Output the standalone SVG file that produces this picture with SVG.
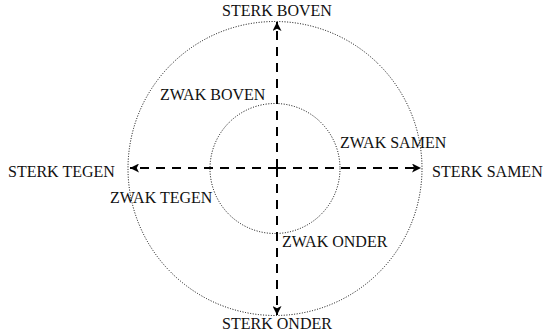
<svg xmlns="http://www.w3.org/2000/svg" width="545" height="332" viewBox="0 0 545 332">
<style>
text { font-family: "Liberation Serif", "Times New Roman", serif; font-size: 16px; fill: #111; }
.ring { fill: none; stroke: #000; stroke-width: 1; stroke-dasharray: 1 1.6; }
.axis { fill: none; stroke: #000; stroke-width: 2; stroke-dasharray: 9 7; }
</style>
<defs>
<marker id="ah" viewBox="0 0 10 10" refX="10" refY="5" markerWidth="10" markerHeight="9" markerUnits="userSpaceOnUse" orient="auto">
<path d="M0,0 L10,5 L0,10 L2.5,5 Z" fill="#000"/>
</marker>
</defs>
<g id="rings">
<circle id="outer" class="ring" cx="275" cy="168.5" r="147"/>
<circle id="inner" class="ring" cx="275" cy="168.5" r="65"/>
</g>
<g id="connectors">
<line class="axis" x1="277" y1="168" x2="277" y2="22" marker-end="url(#ah)"/>
<line class="axis" x1="277" y1="168" x2="277" y2="315" marker-end="url(#ah)"/>
<line class="axis" x1="277" y1="168" x2="130" y2="168" marker-end="url(#ah)"/>
<line class="axis" x1="277" y1="168" x2="421" y2="168" marker-end="url(#ah)"/>
</g>
<g id="sterk-boven"><text x="277" y="16" text-anchor="middle">STERK BOVEN</text></g>
<g id="sterk-onder"><text x="277" y="329" text-anchor="middle">STERK ONDER</text></g>
<g id="sterk-tegen"><text x="8" y="177">STERK TEGEN</text></g>
<g id="sterk-samen"><text x="432" y="177">STERK SAMEN</text></g>
<g id="zwak-boven"><text x="160" y="100">ZWAK BOVEN</text></g>
<g id="zwak-onder"><text x="282" y="247">ZWAK ONDER</text></g>
<g id="zwak-tegen"><text x="110" y="203">ZWAK TEGEN</text></g>
<g id="zwak-samen"><text x="340" y="148">ZWAK SAMEN</text></g>
</svg>
